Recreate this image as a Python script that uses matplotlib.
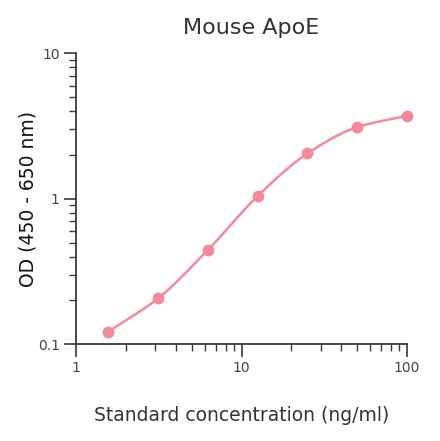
import numpy as np
import matplotlib
matplotlib.use('Agg')
import matplotlib.pyplot as plt
from matplotlib.ticker import LogLocator, FixedLocator, NullFormatter

# standard curve values
conc = [1.5625, 3.125, 6.25, 12.5, 25, 50, 100]
od = [0.122, 0.207, 0.445, 1.045, 2.05, 3.11, 3.72]
x_ticks = [1, 10, 100]
x_tick_labels = ['1', '10', '100']
y_ticks = [0.1, 1, 10]
y_tick_labels = ['0.1', '1', '10']

pink = '#f4899b'
axis_col = '#3a3a3a'


def pchip(x, y, xs):
    # monotone cubic through the points, in log space
    h = np.diff(x)
    d = np.diff(y) / h
    m = np.zeros_like(y)
    for i in range(1, len(y) - 1):
        if d[i - 1] * d[i] > 0:
            w1 = 2 * h[i] + h[i - 1]
            w2 = h[i] + 2 * h[i - 1]
            m[i] = (w1 + w2) / (w1 / d[i - 1] + w2 / d[i])
    m[0] = d[0]
    m[-1] = d[-1]
    idx = np.clip(np.searchsorted(x, xs) - 1, 0, len(x) - 2)
    t = (xs - x[idx]) / h[idx]
    h00 = 2 * t**3 - 3 * t**2 + 1
    h10 = t**3 - 2 * t**2 + t
    h01 = -2 * t**3 + 3 * t**2
    h11 = t**3 - t**2
    return h00 * y[idx] + h10 * h[idx] * m[idx] + h01 * y[idx + 1] + h11 * h[idx] * m[idx + 1]


lx = np.log10(conc)
ly = np.log10(od)
xs = np.linspace(lx[0], lx[-1], 300)
ys = pchip(lx, ly, xs)

fig = plt.figure(figsize=(4.4, 4.41), dpi=100)
ax = fig.add_axes([0.1734, 0.2193, 0.7516, 0.6598])

ax.plot(10**xs, 10**ys, color=pink, lw=1.8, zorder=2)
ax.plot(conc, od, 'o', color=pink, ms=7.5, zorder=3, clip_on=False)

ax.set_xscale('log')
ax.set_yscale('log')
ax.set_xlim(1, 100)
ax.set_ylim(0.1, 10)

ax.xaxis.set_major_locator(FixedLocator(x_ticks))
ax.set_xticklabels(x_tick_labels)
ax.yaxis.set_major_locator(FixedLocator(y_ticks))
ax.set_yticklabels(y_tick_labels)
ax.xaxis.set_minor_locator(LogLocator(base=10, subs=np.arange(2, 10)))
ax.yaxis.set_minor_locator(LogLocator(base=10, subs=np.arange(2, 10)))
ax.xaxis.set_minor_formatter(NullFormatter())
ax.yaxis.set_minor_formatter(NullFormatter())

for s in ['top', 'right']:
    ax.spines[s].set_visible(False)
for s in ['left', 'bottom']:
    ax.spines[s].set_color(axis_col)
    ax.spines[s].set_linewidth(1.3)

ax.tick_params(which='major', length=9, width=1.2, color=axis_col,
               labelsize=10, labelcolor='#444444', pad=3)
ax.tick_params(which='minor', length=5, width=1.0, color=axis_col)

ax.set_title('Mouse ApoE', fontsize=16, color='#333333', pad=14, x=0.53)
ax.set_xlabel('Standard concentration (ng/ml)', fontsize=13.5, color='#333333', labelpad=22)
ax.set_ylabel('OD (450 - 650 nm)', fontsize=13.5, color='#111111', labelpad=0)

fig.savefig('out.png', dpi=100)
